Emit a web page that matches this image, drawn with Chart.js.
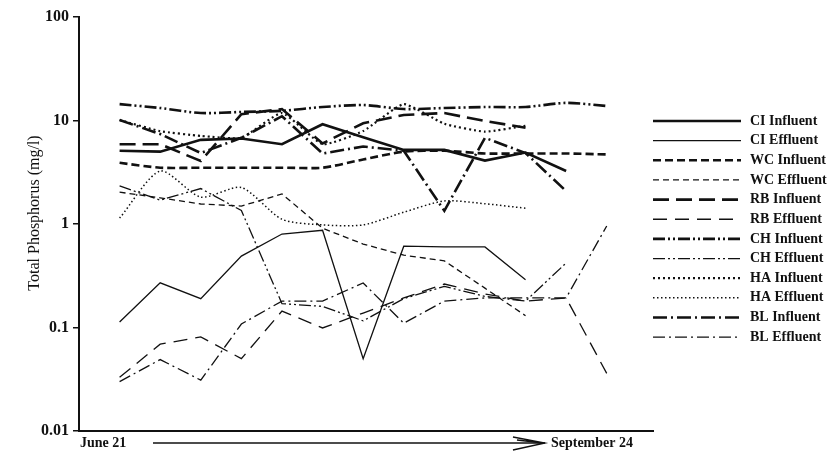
<!DOCTYPE html>
<html>
<head>
<meta charset="utf-8">
<script src="https://cdn.jsdelivr.net/npm/chart.js@4/dist/chart.umd.min.js"></script>
<style>
  html, body { margin: 0; padding: 0; background: #fff; }
  #wrap { width: 831px; height: 455px; }
</style>
</head>
<body>
<div id="wrap"><canvas id="c" width="831" height="455"></canvas></div>
<script>
// Sampling runs between the first and last sampling date
const sampleRuns = [0, 1, 2, 3, 4, 5, 6, 7, 8, 9, 10, 11, 12];
const periodLabels = ['June 21', 'September 24'];
const yTickValues = [0.01, 0.1, 1, 10, 100];
const yTitle = 'Total Phosphorus (mg/l)';

// Total phosphorus (mg/l) per sampling run
const ciInfluent = [5.1, 5.0, 6.5, 6.7, 5.9, 9.2, 6.9, 5.2, 5.2, 4.1, 4.9, 3.25];
const ciEffluent = [0.113, 0.27, 0.19, 0.49, 0.80, 0.87, 0.05, 0.61, 0.60, 0.60, 0.29];
const wcInfluent = [3.9, 3.5, 3.5, 3.5, 3.5, 3.5, 4.2, 5.0, 5.1, 4.8, 4.8, 4.8, 4.7];
const wcEffluent = [2.03, 1.79, 1.56, 1.49, 1.95, 0.91, 0.64, 0.50, 0.44, 0.24, 0.13];
const rbInfluent = [5.9, 5.9, 4.06, 11.5, 12.9, 6.0, 9.4, 11.3, 11.8, 9.9, 8.5];
const rbEffluent = [0.033, 0.069, 0.081, 0.050, 0.144, 0.099, 0.138, 0.193, 0.263, 0.211, 0.18, 0.193, 0.036];
const chInfluent = [14.4, 13.2, 11.8, 12.1, 12.4, 13.5, 14.1, 12.9, 13.2, 13.5, 13.5, 14.8, 13.8];
const chEffluent = [2.33, 1.7, 2.2, 1.35, 0.17, 0.16, 0.116, 0.19, 0.25, 0.2, 0.18, 0.42];
const haInfluent = [10.1, 7.9, 7.1, 6.8, 11.8, 5.9, 7.9, 14.4, 9.3, 7.8, 8.9];
const haEffluent = [1.14, 3.25, 1.82, 2.25, 1.11, 0.98, 0.98, 1.3, 1.67, 1.57, 1.42];
const blInfluent = [10.1, 7.4, 4.85, 6.8, 11.0, 4.8, 5.6, 5.1, 1.34, 6.8, 4.85, 2.08];
const blEffluent = [0.030, 0.049, 0.031, 0.108, 0.18, 0.18, 0.269, 0.110, 0.18, 0.193, 0.193, 0.193, 0.957];

const seriesNames = ['CI Influent', 'CI Effluent', 'WC Influent', 'WC Effluent', 'RB Influent', 'RB Effluent',
                     'CH Influent', 'CH Effluent', 'HA Influent', 'HA Effluent', 'BL Influent', 'BL Effluent'];
const seriesValues = [ciInfluent, ciEffluent, wcInfluent, wcEffluent, rbInfluent, rbEffluent,
                      chInfluent, chEffluent, haInfluent, haEffluent, blInfluent, blEffluent];

// line look per series: width, dash pattern, smoothing
const styles = [
  { w: 2.6, dash: [], t: 0 },
  { w: 1.3, dash: [], t: 0 },
  { w: 2.6, dash: [8, 4], t: 0.25 },
  { w: 1.3, dash: [6, 4], t: 0 },
  { w: 2.6, dash: [16, 7], t: 0 },
  { w: 1.3, dash: [14, 8], t: 0 },
  { w: 2.6, dash: [12, 3, 2, 3, 2, 3], t: 0.25 },
  { w: 1.3, dash: [12, 3, 2, 3, 2, 3], t: 0 },
  { w: 2.2, dash: [2, 3], t: 0.15 },
  { w: 1.5, dash: [1.5, 2.5], t: 0.25 },
  { w: 2.6, dash: [14, 4, 2, 4], t: 0 },
  { w: 1.3, dash: [12, 4, 2, 4], t: 0 }
];

const datasets = seriesNames.map((name, k) => ({
  label: name,
  data: seriesValues[k].map((v, i) => ({ x: sampleRuns[i], y: v })),
  borderColor: '#111',
  backgroundColor: '#111',
  borderWidth: styles[k].w,
  borderDash: styles[k].dash,
  tension: styles[k].t,
  pointRadius: 0,
  fill: false
}));

const serif = '"Liberation Serif", "DejaVu Serif", serif';

// legend on the right, the axis title and the period labels under the time axis
const decorations = {
  id: 'decorations',
  afterDraw(chart) {
    const ctx = chart.ctx;
    const area = chart.chartArea;
    ctx.save();
    chart.data.datasets.forEach((ds, i) => {
      const y = 121 + i * 19.65;
      ctx.strokeStyle = '#111';
      ctx.lineWidth = ds.borderWidth;
      ctx.setLineDash(ds.borderDash);
      ctx.beginPath();
      ctx.moveTo(area.right, y);
      ctx.lineTo(area.right + 88, y);
      ctx.stroke();
      ctx.setLineDash([]);
      ctx.fillStyle = '#111';
      ctx.font = 'bold 14px ' + serif;
      ctx.textBaseline = 'middle';
      ctx.textAlign = 'left';
      ctx.fillText(ds.label, area.right + 97, y);
    });

    // vertical axis title
    ctx.save();
    ctx.translate(35, 213);
    ctx.rotate(-Math.PI / 2);
    ctx.font = '16px ' + serif;
    ctx.fillStyle = '#111';
    ctx.textAlign = 'center';
    ctx.textBaseline = 'middle';
    ctx.fillText(yTitle, 0, 0);
    ctx.restore();

    const yText = area.bottom + 12;
    ctx.font = 'bold 14px ' + serif;
    ctx.fillStyle = '#111';
    ctx.textBaseline = 'middle';
    ctx.textAlign = 'left';
    ctx.fillText(periodLabels[0], area.left + 1, yText);
    const endW = ctx.measureText(periodLabels[1]).width;
    const endX = area.right - 20 - endW;
    ctx.fillText(periodLabels[1], endX, yText);

    // time arrow
    ctx.strokeStyle = '#111';
    ctx.lineWidth = 1.3;
    ctx.beginPath();
    ctx.moveTo(area.left + 74, yText);
    ctx.lineTo(endX - 6, yText);
    ctx.stroke();
    ctx.beginPath();
    ctx.moveTo(endX - 38, yText - 6);
    ctx.lineTo(endX - 6, yText);
    ctx.lineTo(endX - 38, yText + 7);
    ctx.moveTo(endX - 34, yText - 3);
    ctx.lineTo(endX - 8, yText);
    ctx.stroke();
    ctx.restore();
  }
};

new Chart(document.getElementById('c'), {
  type: 'line',
  data: { datasets },
  options: {
    responsive: false,
    animation: false,
    devicePixelRatio: 1,
    layout: { padding: { left: 0, right: 178, top: 17, bottom: 0 } },
    plugins: { legend: { display: false }, tooltip: { enabled: false } },
    scales: {
      x: {
        type: 'linear',
        min: -1,
        max: 13.14,
        grid: { display: false },
        ticks: { display: false },
        border: { display: true, color: '#111', width: 2 },
        afterFit: s => { s.height = 24; }
      },
      y: {
        type: 'logarithmic',
        min: 0.01,
        max: 100,
        afterBuildTicks: s => { s.ticks = yTickValues.map(v => ({ value: v })); },
        ticks: {
          color: '#111',
          padding: 4,
          font: { family: serif, size: 16, weight: 'bold' },
          callback: v => String(v)
        },
        grid: { drawOnChartArea: false, drawTicks: true, tickLength: 6, color: '#111', lineWidth: 1.5 },
        border: { display: true, color: '#111', width: 2 },
        title: { display: false },
        afterFit: s => { s.width = 79; }
      }
    }
  },
  plugins: [decorations]
});
</script>
</body>
</html>
